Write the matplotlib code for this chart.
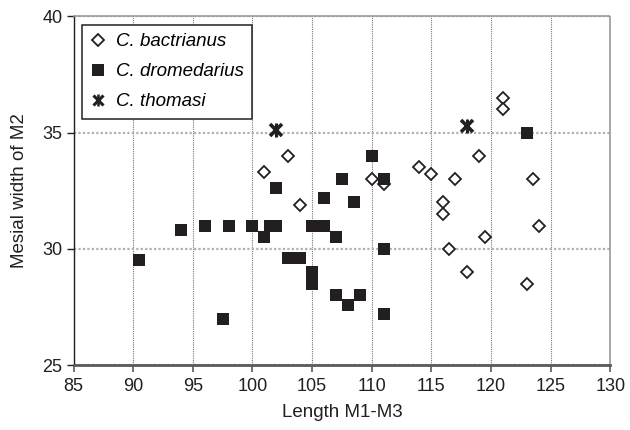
import matplotlib
matplotlib.use('Agg')
import matplotlib.pyplot as plt
from matplotlib.lines import Line2D
from matplotlib.legend_handler import HandlerTuple

plt.rcParams['font.family'] = ['Liberation Sans', 'DejaVu Sans']

# C. bactrianus (open diamonds)
bac_x = [101, 103, 104, 110, 111, 114, 115, 116, 116, 116.5, 117, 118, 119, 119.5,
         121, 121, 123, 123.5, 124]
bac_y = [33.3, 34.0, 31.9, 33.0, 32.8, 33.5, 33.2, 32.0, 31.5, 30.0, 33.0, 29.0, 34.0, 30.5,
         36.5, 36.0, 28.5, 33.0, 31.0]

# C. dromedarius (filled squares)
dro_x = [90.5, 94, 96, 97.5, 98, 100, 101, 101.5, 102, 102, 103, 104, 105, 105, 105, 106,
         106, 107, 107, 107.5, 108, 108.5, 109, 110, 111, 111, 111, 123]
dro_y = [29.5, 30.8, 31.0, 27.0, 31.0, 31.0, 30.5, 31.0, 32.6, 31.0, 29.6, 29.6, 31.0, 29.0,
         28.5, 31.0, 32.2, 30.5, 28.0, 33.0, 27.6, 32.0, 28.0, 34.0, 33.0, 30.0, 27.2, 35.0]

# C. thomasi (stars)
tho_x = [102, 118]
tho_y = [35.1, 35.3]

fig = plt.figure(figsize=(6.3, 4.3), dpi=100)
ax = fig.add_axes([0.1167, 0.151, 0.852, 0.811])

ax.plot(bac_x, bac_y, linestyle='none', marker='D', ms=6, mfc='white', mec='#231f20',
        mew=1.3, zorder=3)
ax.plot(dro_x, dro_y, linestyle='none', marker='s', ms=8.5, mfc='#231f20', mec='#231f20',
        mew=0, zorder=3)
ax.plot(tho_x, tho_y, linestyle='none', marker='x', ms=9, mec='#231f20', mew=2.6, zorder=4)
ax.plot(tho_x, tho_y, linestyle='none', marker='|', ms=10, mec='#231f20', mew=2.2, zorder=4)

ax.set_xlim(85, 130)
ax.set_ylim(25, 40)
ax.set_xticks(range(85, 131, 5))
ax.set_yticks([25, 30, 35, 40])

ax.xaxis.grid(True, color='#777777', linestyle=(0, (1, 1)), linewidth=0.8)
ax.yaxis.grid(True, color='#b0b0b0', linestyle=(0, (1, 1)), linewidth=1.6)
ax.set_axisbelow(True)

ax.spines['left'].set_color('#231f20')
ax.spines['left'].set_linewidth(1.0)
ax.spines['bottom'].set_color('#5a5a5a')
ax.spines['bottom'].set_linewidth(2.0)
for s in ['top', 'right']:
    ax.spines[s].set_linestyle((0, (1, 1)))
    ax.spines[s].set_linewidth(1.2)
    ax.spines[s].set_color('#999999')

ax.tick_params(axis='x', direction='out', length=5, width=1.2, color='#5a5a5a',
               labelsize=13, labelcolor='#231f20', pad=4)
ax.tick_params(axis='y', direction='out', length=5, width=1.0, color='#231f20',
               labelsize=13, labelcolor='#231f20', pad=3)

ax.set_xlabel('Length M1-M3', fontsize=13.5, color='#231f20', labelpad=7)
ax.set_ylabel('Mesial width of M2', fontsize=13.5, color='#231f20', labelpad=10)

h_bac = Line2D([], [], linestyle='none', marker='D', ms=6, mfc='white', mec='#231f20', mew=1.3)
h_dro = Line2D([], [], linestyle='none', marker='s', ms=8.5, mfc='#231f20', mew=0)
h_t1 = Line2D([], [], linestyle='none', marker='x', ms=7, mec='#231f20', mew=2.2)
h_t2 = Line2D([], [], linestyle='none', marker='|', ms=8, mec='#231f20', mew=1.8)

leg = ax.legend([h_bac, h_dro, (h_t1, h_t2)],
                ['C. bactrianus', 'C. dromedarius', 'C. thomasi'],
                handler_map={tuple: HandlerTuple(ndivide=1, pad=0)},
                loc='upper left', bbox_to_anchor=(0.0, 1.0), borderaxespad=0.45,
                prop={'style': 'italic', 'size': 13.5}, frameon=True, fancybox=False,
                framealpha=1, edgecolor='#231f20', handlelength=0.8, handletextpad=0.55,
                labelspacing=0.68, borderpad=0.45)
leg.get_frame().set_linewidth(1.1)

fig.savefig('out.png', dpi=100)
